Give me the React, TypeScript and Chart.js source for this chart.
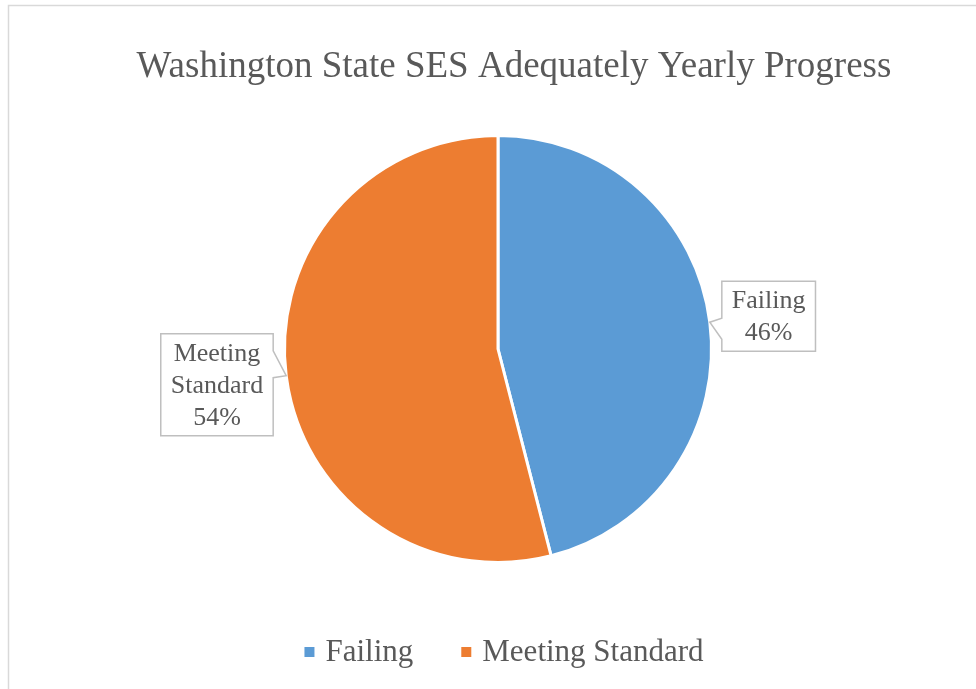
import React, { useEffect, useRef } from "react";
import { Chart, registerables } from "chart.js";

Chart.register(...registerables);

const TITLE = "Washington State SES Adequately Yearly Progress";
const categories = ["Failing", "Meeting Standard"];
const values = [46, 54];
const colors = ["#5B9BD5", "#ED7D31"];
const labelLines = [["Failing"], ["Meeting", "Standard"]];

const FONT = "'Liberation Serif', 'Times New Roman', serif";
const TEXT = "#595959";

const decorPlugin = {
  id: "decor",
  beforeDraw(chart: any) {
    const { ctx, width, height } = chart;
    ctx.save();
    ctx.fillStyle = "#ffffff";
    ctx.fillRect(0, 0, width, height);
    ctx.strokeStyle = "#d9d9d9";
    ctx.lineWidth = 1.5;
    ctx.beginPath();
    ctx.moveTo(8.5, height);
    ctx.lineTo(8.5, 5.5);
    ctx.lineTo(width, 5.5);
    ctx.stroke();
    ctx.restore();
  },
  afterLayout(chart: any) {
    if (chart.titleBlock) {
      chart.titleBlock.left += 16;
      chart.titleBlock.right += 16;
    }
  },
  afterDraw(chart: any) {
    const { ctx } = chart;
    const meta = chart.getDatasetMeta(0);
    const total = values.reduce((a, b) => a + b, 0);
    ctx.save();

    // data labels with callout boxes
    const fontSize = 26;
    const lineH = 32;
    const padX = 10;
    const padY = 3;
    ctx.font = `${fontSize}px ${FONT}`;
    ctx.textAlign = "center";
    ctx.textBaseline = "middle";
    meta.data.forEach((arc: any, i: number) => {
      const { x, y, startAngle, endAngle, outerRadius } = arc.getProps(
        ["x", "y", "startAngle", "endAngle", "outerRadius"],
        true
      );
      const mid = (startAngle + endAngle) / 2;
      const tx = x + Math.cos(mid) * outerRadius;
      const ty = y + Math.sin(mid) * outerRadius;
      const lines = [...labelLines[i], Math.round((values[i] / total) * 100) + "%"];
      const tw = Math.max(...lines.map((l) => ctx.measureText(l).width));
      const bw = tw + padX * 2;
      const bh = lines.length * lineH + padY * 2;
      const right = Math.cos(mid) >= 0;
      let left: number, top: number;
      ctx.beginPath();
      if (right) {
        left = tx + 12;
        top = ty - 6 - bh / 2;
        ctx.moveTo(left, top);
        ctx.lineTo(left + bw, top);
        ctx.lineTo(left + bw, top + bh);
        ctx.lineTo(left, top + bh);
        ctx.lineTo(left, ty + 17);
        ctx.lineTo(tx, ty);
        ctx.lineTo(left, ty - 4);
        ctx.closePath();
      } else {
        left = tx - 13 - bw;
        top = ty + 9 - bh / 2;
        const r = left + bw;
        ctx.moveTo(left, top);
        ctx.lineTo(r, top);
        ctx.lineTo(r, ty - 25);
        ctx.lineTo(tx, ty);
        ctx.lineTo(r, ty + 2);
        ctx.lineTo(r, top + bh);
        ctx.lineTo(left, top + bh);
        ctx.closePath();
      }
      ctx.fillStyle = "#ffffff";
      ctx.fill();
      ctx.strokeStyle = "#bfbfbf";
      ctx.lineWidth = 1.5;
      ctx.stroke();
      ctx.fillStyle = TEXT;
      lines.forEach((l, k) => {
        ctx.fillText(l, left + bw / 2, top + padY + lineH * k + lineH / 2 + 1);
      });
    });

    // legend
    const lf = 31;
    ctx.font = `${lf}px ${FONT}`;
    ctx.textAlign = "left";
    ctx.textBaseline = "middle";
    const sq = 10;
    const gapText = 11;
    const gapItem = 48;
    const widths = categories.map((c) => ctx.measureText(c).width);
    const totalW =
      widths.reduce((a, w) => a + sq + gapText + w, 0) + gapItem * (categories.length - 1);
    const legendCx = 504;
    const legendCy = 652;
    let cx = legendCx - totalW / 2;
    categories.forEach((c, i) => {
      ctx.fillStyle = colors[i];
      ctx.fillRect(cx, legendCy - sq / 2, sq, sq);
      ctx.fillStyle = TEXT;
      ctx.fillText(c, cx + sq + gapText, legendCy + 1);
      cx += sq + gapText + widths[i] + gapItem;
    });
    ctx.restore();
  },
};

export default function App() {
  const ref = useRef<HTMLCanvasElement | null>(null);
  useEffect(() => {
    if (!ref.current) return;
    const chart = new Chart(ref.current, {
      type: "pie",
      data: {
        labels: categories,
        datasets: [
          {
            data: values,
            backgroundColor: colors,
            borderColor: "#ffffff",
            borderWidth: 3,
          },
        ],
      },
      options: {
        responsive: false,
        animation: false,
        layout: { padding: { top: 0, left: 30, right: 10, bottom: 125 } },
        plugins: {
          legend: { display: false },
          tooltip: { enabled: false },
          title: {
            display: true,
            text: TITLE,
            color: TEXT,
            font: { family: FONT, size: 37, weight: "normal" as any },
            padding: { top: 44.8, bottom: 44.8 },
          },
        },
      },
      plugins: [decorPlugin],
    });
    return () => chart.destroy();
  }, []);
  return (
    <div style={{ position: "fixed", left: 0, top: 0, width: 976, height: 689 }}>
      <canvas ref={ref} width={976} height={689} style={{ display: "block" }} />
    </div>
  );
}
